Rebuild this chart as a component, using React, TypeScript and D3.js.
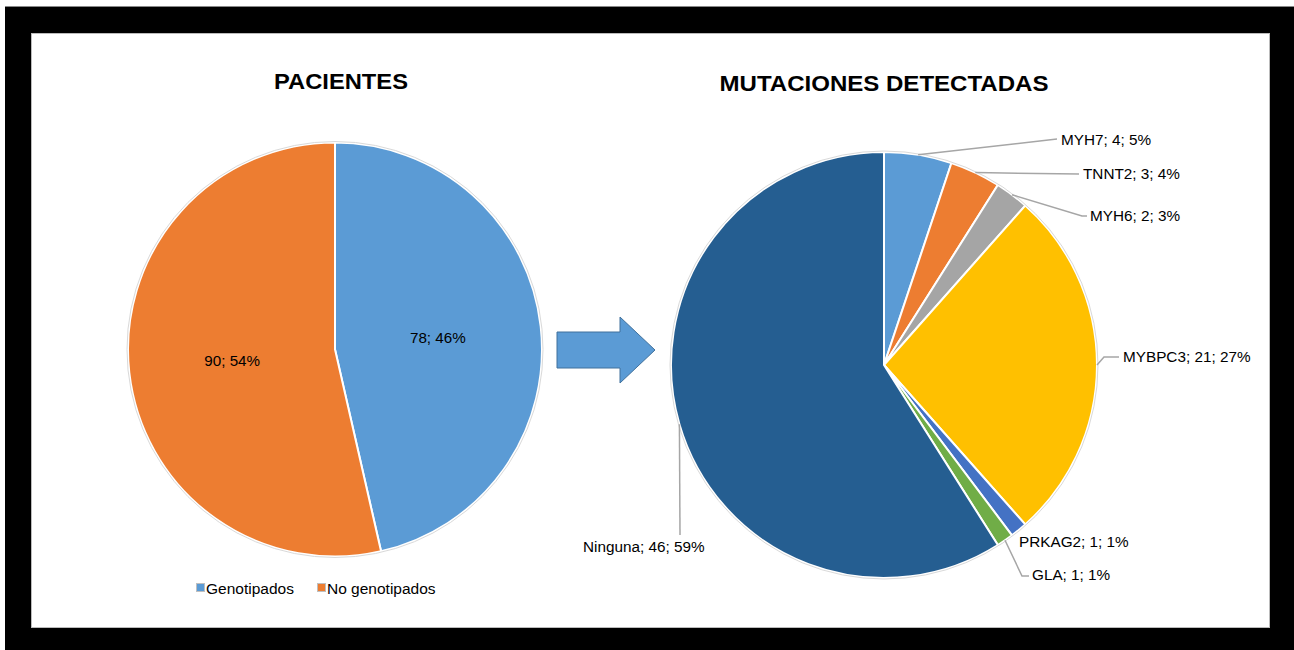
import React from 'react';
import * as d3 from 'd3';

// left chart
const patientCats = ['Genotipados', 'No genotipados'];
const patientVals = [78, 90];
const patientPct = ['46%', '54%'];
const patientColors = ['#5B9BD5', '#ED7D31'];

// right chart
const mutCats = ['MYH7', 'TNNT2', 'MYH6', 'MYBPC3', 'PRKAG2', 'GLA', 'Ninguna'];
const mutVals = [4, 3, 2, 21, 1, 1, 46];
const mutPct = ['5%', '4%', '3%', '27%', '1%', '1%', '59%'];
const mutColors = ['#5B9BD5', '#ED7D31', '#A5A5A5', '#FFC000', '#4472C4', '#70AD47', '#255E91'];

// label placement for the outside labels (text left x, baseline y, leader end points)
const mutLabelPos = [
  { x: 1061, y: 145, path: [[1057, 139]] },
  { x: 1083, y: 179, path: [[1079, 174]] },
  { x: 1090, y: 221, path: [[1082, 216], [1087, 216]] },
  { x: 1123, y: 362, path: [[1104, 357], [1119, 357]] },
  { x: 1019, y: 547, path: [] },
  { x: 1032, y: 580, path: [[1022, 576], [1029, 576]] },
  { x: 583, y: 552, path: [[680, 535]] },
];

const FONT = 'Liberation Sans, Arial, sans-serif';

const pie = d3.pie<number>().sort(null).value(d => d);

export default function App() {
  const W = 1294, H = 650;

  const L = { cx: 335, cy: 349.5, r: 207 };
  const R = { cx: 884, cy: 365, r: 213 };

  const leftArcs = pie(patientVals);
  const leftArc = d3.arc<d3.PieArcDatum<number>>().innerRadius(0).outerRadius(L.r);
  const leftLabelArc = d3.arc<d3.PieArcDatum<number>>().innerRadius(L.r * 0.5).outerRadius(L.r * 0.5);

  const rightArcs = pie(mutVals);
  const rightArc = d3.arc<d3.PieArcDatum<number>>().innerRadius(0).outerRadius(R.r);

  const line = d3.line();

  return (
    <svg width={W} height={H} style={{ position: 'absolute', left: 0, top: 0 }}>
      <rect x={0} y={0} width={W} height={H} fill="#fff" />
      <rect x={5} y={6} width={W - 5} height={H - 6} fill="#000" />
      <line x1={5} y1={6.5} x2={W} y2={6.5} stroke="#888" />
      <rect x={31.5} y={33.5} width={1238} height={594} fill="#fff" stroke="#bbb" />

      {/* left pie */}
      <text x={341} y={89} textAnchor="middle" fontFamily={FONT} fontWeight="bold" fontSize={22}
        textLength={134} lengthAdjust="spacingAndGlyphs">PACIENTES</text>
      <g transform={`translate(${L.cx},${L.cy})`}>
        {leftArcs.map((a, i) => (
          <path key={i} d={leftArc(a) || ''} fill={patientColors[i]} stroke="#fff" strokeWidth={2} />
        ))}
        <circle r={L.r + 1} fill="none" stroke="#d9d9d9" strokeWidth={1} />
        {leftArcs.map((a, i) => {
          const [x, y] = leftLabelArc.centroid(a);
          return (
            <text key={i} x={x} y={y + 5} textAnchor="middle" fontFamily={FONT} fontSize={15.2} fill="#000">
              {`${patientVals[i]}; ${patientPct[i]}`}
            </text>
          );
        })}
      </g>
      {/* legend */}
      {patientCats.map((c, i) => {
        const x = i === 0 ? 196 : 317;
        return (
          <g key={c}>
            <rect x={x + 0.5} y={583.5} width={8} height={8} fill={patientColors[i]} stroke="#bfbfbf" />
            <text x={x + 10} y={593.5} fontFamily={FONT} fontSize={15.5} fill="#000">{c}</text>
          </g>
        );
      })}

      {/* arrow */}
      <path d="M557,332 L620,332 L620,317 L655,350 L620,383 L620,368 L557,368 Z" fill="#5B9BD5" stroke="#41719C" strokeWidth={1} />

      {/* right pie */}
      <text x={884} y={91} textAnchor="middle" fontFamily={FONT} fontWeight="bold" fontSize={22}
        textLength={329} lengthAdjust="spacingAndGlyphs">MUTACIONES DETECTADAS</text>
      <g transform={`translate(${R.cx},${R.cy})`}>
        {rightArcs.map((a, i) => (
          <path key={i} d={rightArc(a) || ''} fill={mutColors[i]} stroke="#fff" strokeWidth={2} />
        ))}
        <circle r={R.r + 1} fill="none" stroke="#d9d9d9" strokeWidth={1} />
      </g>
      {rightArcs.map((a, i) => {
        const mid = (a.startAngle + a.endAngle) / 2;
        const ex = R.cx + R.r * Math.sin(mid);
        const ey = R.cy - R.r * Math.cos(mid);
        const pos = mutLabelPos[i];
        const pts: [number, number][] = [[ex, ey], ...(pos.path as [number, number][])];
        return (
          <g key={i}>
            {pts.length > 1 && <path d={line(pts) || ''} fill="none" stroke="#A6A6A6" strokeWidth={1.5} />}
            <text x={pos.x} y={pos.y} fontFamily={FONT} fontSize={15.3} fill="#000">
              {`${mutCats[i]}; ${mutVals[i]}; ${mutPct[i]}`}
            </text>
          </g>
        );
      })}
    </svg>
  );
}
